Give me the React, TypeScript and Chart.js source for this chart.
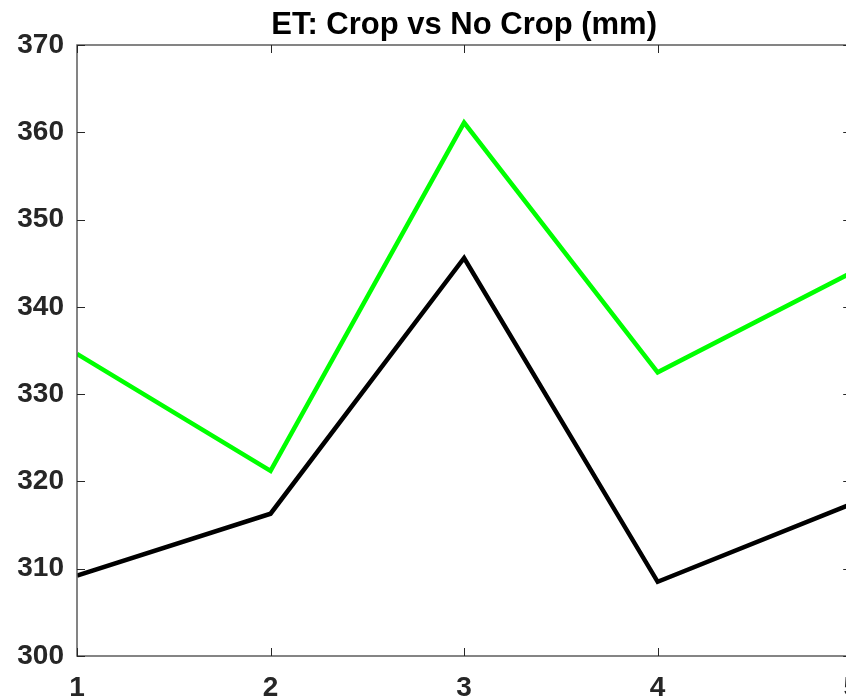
import React, { useEffect, useRef } from "react";
import { Chart, registerables } from "chart.js";

Chart.register(...registerables);

// Evapotranspiration per site, mm
const sites = [1, 2, 3, 4, 5];
const etCrop = [334.6, 321.2, 361.1, 332.5, 343.9];
const etNoCrop = [309.2, 316.3, 345.6, 308.5, 317.4];
const yTicks = [300, 310, 320, 330, 340, 350, 360, 370];
const xTicks = [1, 2, 3, 4, 5];
const titleText = "ET: Crop vs No Crop (mm)";

const FONT = "Arial, 'Liberation Sans', sans-serif";

// Box around the axes with short inward tick marks, plus the title
const boxPlugin = {
  id: "matlabBox",
  afterDatasetsDraw(chart: any) {
    const { ctx, chartArea, scales } = chart;
    const { left, right, top, bottom } = chartArea;
    ctx.save();
    ctx.strokeStyle = "#5c5c5c";
    ctx.lineWidth = 1.5;
    ctx.strokeRect(left, top, right - left, bottom - top);
    ctx.strokeStyle = "#262626";
    ctx.lineWidth = 1;
    const tl = 8;
    for (const v of xTicks) {
      const x = Math.round(scales.x.getPixelForValue(v)) + 0.5;
      ctx.beginPath();
      ctx.moveTo(x, bottom);
      ctx.lineTo(x, bottom - tl);
      ctx.moveTo(x, top);
      ctx.lineTo(x, top + tl);
      ctx.stroke();
    }
    for (const v of yTicks) {
      const y = Math.round(scales.y.getPixelForValue(v)) + 0.5;
      ctx.beginPath();
      ctx.moveTo(left, y);
      ctx.lineTo(left + tl, y);
      ctx.moveTo(right, y);
      ctx.lineTo(right - tl, y);
      ctx.stroke();
    }
    ctx.fillStyle = "#000";
    ctx.font = `bold 31px ${FONT}`;
    ctx.textAlign = "center";
    ctx.textBaseline = "alphabetic";
    ctx.fillText(titleText, (left + right) / 2, 34);
    ctx.restore();
  },
};

export default function App() {
  const ref = useRef<HTMLCanvasElement>(null);

  useEffect(() => {
    if (!ref.current) return;
    const chart = new Chart(ref.current, {
      type: "line",
      data: {
        datasets: [
          {
            label: "Crop",
            data: sites.map((s, i) => ({ x: s, y: etCrop[i] })),
            borderColor: "#00ff00",
            borderWidth: 4.5,
            pointRadius: 0,
            tension: 0,
          },
          {
            label: "No Crop",
            data: sites.map((s, i) => ({ x: s, y: etNoCrop[i] })),
            borderColor: "#000000",
            borderWidth: 4.5,
            pointRadius: 0,
            tension: 0,
          },
        ],
      },
      options: {
        responsive: false,
        animation: false,
        devicePixelRatio: 1,
        layout: { padding: { top: 45, right: 19, left: 0, bottom: 0 } },
        plugins: {
          legend: { display: false },
          title: { display: false },
          tooltip: { enabled: false },
        },
        scales: {
          x: {
            type: "linear",
            min: 1,
            max: 5,
            afterBuildTicks: (scale: any) => {
              scale.ticks = xTicks.map((v) => ({ value: v }));
            },
            afterFit: (scale: any) => {
              scale.height = 43;
            },
            grid: { display: false, drawTicks: false },
            border: { display: false },
            ticks: {
              color: "#262626",
              font: { family: FONT, size: 28, weight: "bold" },
              padding: 15,
              maxRotation: 0,
              autoSkip: false,
            },
          },
          y: {
            type: "linear",
            min: 300,
            max: 370,
            afterBuildTicks: (scale: any) => {
              scale.ticks = yTicks.map((v) => ({ value: v }));
            },
            afterFit: (scale: any) => {
              scale.width = 77;
            },
            grid: { display: false, drawTicks: false },
            border: { display: false },
            ticks: {
              color: "#262626",
              font: { family: FONT, size: 28, weight: "bold" },
              padding: 13,
            },
          },
        },
      },
      plugins: [boxPlugin],
    });
    return () => chart.destroy();
  }, []);

  return (
    <div
      style={{
        position: "fixed",
        left: 0,
        top: 0,
        width: 846,
        height: 699,
        overflow: "hidden",
        background: "#fff",
      }}
    >
      <canvas ref={ref} width={874} height={699} style={{ display: "block" }} />
    </div>
  );
}
